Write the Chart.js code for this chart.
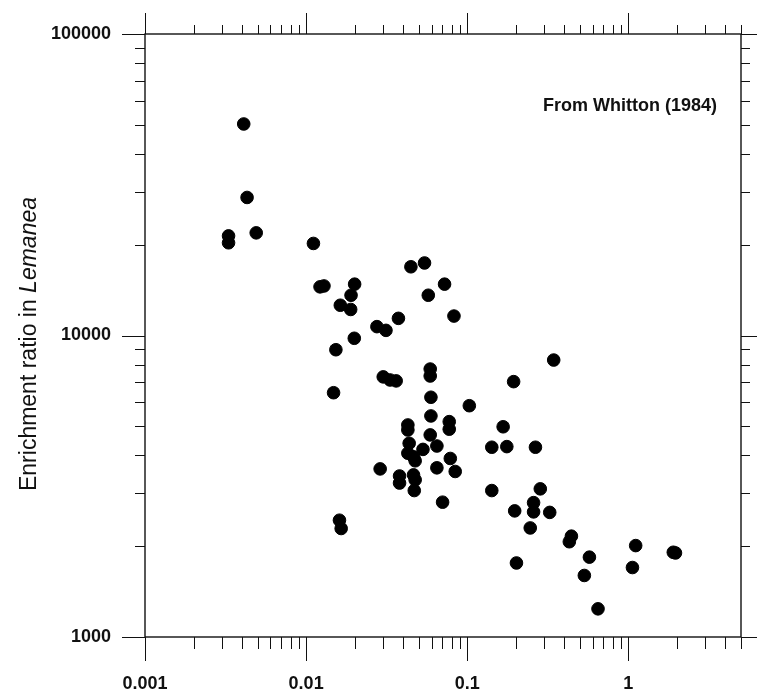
<!DOCTYPE html>
<html>
<head>
<meta charset="utf-8">
<script src="https://cdn.jsdelivr.net/npm/chart.js@4.4.1/dist/chart.umd.min.js"></script>
<style>
  html, body { margin: 0; padding: 0; background: #fff; }
  #wrap { width: 757px; height: 690px; }
</style>
</head>
<body>
<div id="wrap"><canvas id="chart" width="757" height="690"></canvas></div>
<script>
// concentration in water (x) and enrichment ratio (y)
const waterConc = [
    0.0041, 0.0043, 0.0033, 0.0033, 0.0049, 0.0111, 0.0122, 0.0129, 0.0200, 0.0190,
    0.0163, 0.0189, 0.0447, 0.0543, 0.0723, 0.0573, 0.0827, 0.0374, 0.0275, 0.0313,
    0.0199, 0.0153, 0.0589, 0.0589, 0.0301, 0.0332, 0.0362, 0.344, 0.0148, 0.194,
    0.0595, 0.103, 0.0595, 0.0428, 0.0428, 0.0773, 0.0773, 0.167, 0.0589, 0.0648,
    0.0436, 0.0428, 0.0464, 0.0531, 0.0475, 0.142, 0.176, 0.265, 0.0785, 0.0648,
    0.0842, 0.0288, 0.0380, 0.0380, 0.0464, 0.0475, 0.0469, 0.0703, 0.142, 0.284,
    0.258, 0.258, 0.197, 0.325, 0.246, 0.0161, 0.0165, 0.443, 0.430, 0.573,
    1.11, 1.06, 1.90, 1.96, 0.202, 0.533, 0.648
];
const enrichRatio = [
    50300, 28700, 21400, 20300, 21900, 20200, 14500, 14600, 14800, 13600,
    12600, 12200, 16900, 17400, 14800, 13600, 11600, 11400, 10700, 10400,
    9790, 8970, 7740, 7340, 7290, 7120, 7070, 8290, 6460, 7030,
    6240, 5850, 5410, 5050, 4860, 5180, 4890, 4980, 4680, 4300,
    4390, 4070, 3960, 4190, 3840, 4260, 4280, 4260, 3910, 3640,
    3540, 3610, 3420, 3240, 3450, 3320, 3060, 2800, 3060, 3100,
    2790, 2600, 2620, 2590, 2300, 2440, 2290, 2160, 2070, 1840,
    2010, 1700, 1910, 1900, 1760, 1600, 1240
];
const xTicks = [0.001, 0.01, 0.1, 1];
const yTicks = [1000, 10000, 100000];
const yTitle = 'Enrichment ratio in ';
const yTitleItalic = 'Lemanea';
const note = 'From Whitton (1984)';

const fontFam = '"Liberation Sans", Arial, Helvetica, sans-serif';

function logTicks(min, max) {
    let out = [];
    for (let d = Math.pow(10, Math.floor(Math.log10(min))); d <= max; d *= 10) {
        for (let m = 1; m <= 9; m++) {
            let v = +(m * d).toPrecision(3);
            if (v >= min && v <= max) out.push({ v: v, major: m === 1 });
        }
    }
    return out;
}

// frame, outward ticks on all four sides, axis title and note
const frameTicks = {
    id: 'frameTicks',
    afterDraw(chart) {
        const ctx = chart.ctx;
        const a = chart.chartArea;
        const xs = chart.scales.x, ys = chart.scales.y;
        ctx.save();
        ctx.strokeStyle = '#111';
        ctx.lineWidth = 1.4;
        ctx.strokeRect(a.left, a.top, a.right - a.left, a.bottom - a.top);
        ctx.lineWidth = 1;
        ctx.beginPath();
        logTicks(xs.min, xs.max).forEach(t => {
            let px = Math.round(xs.getPixelForValue(t.v)) + 0.5;
            ctx.moveTo(px, a.bottom); ctx.lineTo(px, a.bottom + (t.major ? 24 : 12));
            ctx.moveTo(px, a.top); ctx.lineTo(px, a.top - (t.major ? 21 : 9));
        });
        logTicks(ys.min, ys.max).forEach(t => {
            let py = Math.round(ys.getPixelForValue(t.v)) + 0.5;
            ctx.moveTo(a.left, py); ctx.lineTo(a.left - (t.major ? 23 : 10), py);
            ctx.moveTo(a.right, py); ctx.lineTo(a.right + (t.major ? 16 : 9), py);
        });
        ctx.stroke();

        // y axis title, genus name in italics
        ctx.fillStyle = '#111';
        ctx.textBaseline = 'middle';
        const f1 = '23px ' + fontFam, f2 = 'italic 23px ' + fontFam;
        ctx.font = f1; const w1 = ctx.measureText(yTitle).width;
        ctx.font = f2; const w2 = ctx.measureText(yTitleItalic).width;
        ctx.translate(30, 344);
        ctx.rotate(-Math.PI / 2);
        ctx.textAlign = 'left';
        ctx.font = f1; ctx.fillText(yTitle, -(w1 + w2) / 2, 0);
        ctx.font = f2; ctx.fillText(yTitleItalic, -(w1 + w2) / 2 + w1, 0);
        ctx.restore();

        ctx.save();
        ctx.fillStyle = '#111';
        ctx.font = 'bold 18px ' + fontFam;
        ctx.textAlign = 'right';
        ctx.textBaseline = 'alphabetic';
        ctx.fillText(note, 717, 111);
        ctx.restore();
    }
};

let ctx = document.getElementById('chart').getContext('2d');
let chart = new Chart(ctx, {
    type: 'scatter',
    data: {
        datasets: [{
            data: waterConc.map((x, i) => ({ x: x, y: enrichRatio[i] })),
            backgroundColor: '#000',
            borderColor: '#000',
            pointRadius: 6.3,
            pointHoverRadius: 6.3
        }]
    },
    options: {
        responsive: false,
        animation: false,
        events: [],
        layout: { padding: { left: 0, right: 16, top: 34, bottom: 0 } },
        plugins: { legend: { display: false }, tooltip: { enabled: false } },
        scales: {
            x: {
                type: 'logarithmic',
                min: 0.001,
                max: 5,
                afterBuildTicks: s => { s.ticks = xTicks.map(v => ({ value: v })); },
                afterFit: s => { s.height = 53; s.paddingLeft = 0; s.paddingRight = 0; },
                grid: { display: false, drawTicks: false },
                border: { display: false },
                ticks: {
                    color: '#111',
                    padding: 36,
                    maxRotation: 0,
                    autoSkip: false,
                    font: { family: fontFam, size: 18, weight: 'bold' },
                    callback: v => String(v)
                }
            },
            y: {
                type: 'logarithmic',
                min: 1000,
                max: 100000,
                afterBuildTicks: s => { s.ticks = yTicks.map(v => ({ value: v })); },
                afterFit: s => { s.width = 145; s.paddingTop = 0; s.paddingBottom = 0; },
                grid: { display: false, drawTicks: false },
                border: { display: false },
                ticks: {
                    color: '#111',
                    padding: 34,
                    autoSkip: false,
                    font: { family: fontFam, size: 18, weight: 'bold' },
                    callback: v => String(v)
                }
            }
        }
    },
    plugins: [frameTicks]
});
</script>
</body>
</html>
